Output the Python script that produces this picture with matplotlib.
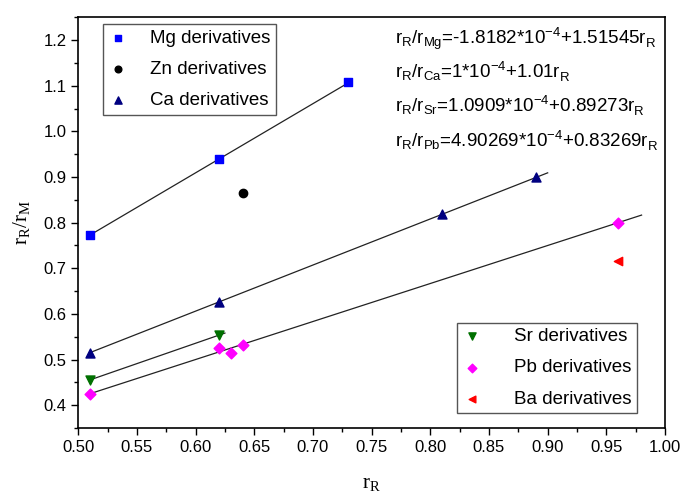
import numpy as np
import matplotlib
matplotlib.use('Agg')
from matplotlib import pyplot as plt
from matplotlib.ticker import MultipleLocator, FormatStrFormatter

plt.rcParams['font.family'] = 'Liberation Sans'
plt.rcParams['mathtext.fontset'] = 'custom'
plt.rcParams['mathtext.rm'] = 'Liberation Sans'

# r_R values and r_R/r_M ratios for each series
mg_x = [0.51, 0.62, 0.73]
mg_y = [0.773, 0.940, 1.107]
zn_x = [0.64]
zn_y = [0.865]
ca_x = [0.51, 0.62, 0.81, 0.89]
ca_y = [0.515, 0.627, 0.820, 0.900]
sr_x = [0.51, 0.62]
sr_y = [0.455, 0.553]
pb_x = [0.51, 0.62, 0.63, 0.64, 0.96]
pb_y = [0.425, 0.525, 0.515, 0.533, 0.800]
ba_x = [0.96]
ba_y = [0.716]

# linear fits (intercept, slope, x range)
fits = [
    (-1.8182e-4, 1.51545, 0.51, 0.73),
    (1e-4, 1.01, 0.51, 0.90),
    (1.0909e-4, 0.89273, 0.51, 0.625),
    (4.90269e-4, 0.83269, 0.51, 0.98),
]
equations = [
    r'$\mathregular{r_R/r_{Mg}}$=-1.8182*10$^{\mathregular{-4}}$+1.51545r$_\mathregular{R}$',
    r'$\mathregular{r_R/r_{Ca}}$=1*10$^{\mathregular{-4}}$+1.01r$_\mathregular{R}$',
    r'$\mathregular{r_R/r_{Sr}}$=1.0909*10$^{\mathregular{-4}}$+0.89273r$_\mathregular{R}$',
    r'$\mathregular{r_R/r_{Pb}}$=4.90269*10$^{\mathregular{-4}}$+0.83269r$_\mathregular{R}$',
]

fig = plt.figure(figsize=(6.8, 4.92), dpi=100)
ax = fig.add_axes([0.115, 0.130, 0.863, 0.835])

for b, k, x0, x1 in fits:
    xs = np.array([x0, x1])
    ax.plot(xs, b + k * xs, color='#222222', lw=0.9, zorder=1)

h1 = ax.scatter(mg_x, mg_y, marker='s', s=30, color='#0000ff', label='Mg derivatives', zorder=3)
h2 = ax.scatter(zn_x, zn_y, marker='o', s=36, color='black', label='Zn derivatives', zorder=3)
h3 = ax.scatter(ca_x, ca_y, marker='^', s=42, color='#000080', label='Ca derivatives', zorder=3)
h4 = ax.scatter(sr_x, sr_y, marker='v', s=42, color='#007000', label='Sr derivatives', zorder=3)
h5 = ax.scatter(pb_x, pb_y, marker='D', s=30, color='#ff00ff', label='Pb derivatives', zorder=3)
h6 = ax.scatter(ba_x, ba_y, marker='<', s=36, color='#ff0000', label='Ba derivatives', zorder=3)

leg_kw = dict(fontsize=13.5, fancybox=False, edgecolor='#555555', framealpha=1,
              borderpad=0.3, labelspacing=0.75, handlelength=1.0, markerscale=0.8,
              borderaxespad=0)
leg1 = ax.legend(handles=[h1, h2, h3], loc='upper left', bbox_to_anchor=(0.043, 0.983),
                 handletextpad=1.2, **leg_kw)
leg1.get_frame().set_linewidth(1.0)
ax.add_artist(leg1)
leg2 = ax.legend(handles=[h4, h5, h6], loc='lower right', bbox_to_anchor=(0.952, 0.036),
                 handletextpad=1.7, **leg_kw)
leg2.get_frame().set_linewidth(1.0)

for i, eq in enumerate(equations):
    ax.text(0.54, 0.949 - i * 0.083, eq, transform=ax.transAxes, fontsize=13.5, va='center')

ax.set_xlim(0.50, 1.00)
ax.set_ylim(0.35, 1.25)
ax.xaxis.set_major_locator(MultipleLocator(0.05))
ax.xaxis.set_minor_locator(MultipleLocator(0.025))
ax.set_yticks(np.arange(0.4, 1.21, 0.1))
ax.yaxis.set_minor_locator(MultipleLocator(0.05))
ax.tick_params(which='both', direction='out', labelsize=12, width=1)
ax.tick_params(which='major', length=5)
ax.tick_params(which='minor', length=3)
ax.xaxis.set_major_formatter(FormatStrFormatter('%.2f'))
ax.yaxis.set_major_formatter(FormatStrFormatter('%.1f'))
for s in ax.spines.values():
    s.set_linewidth(1.2)

ax.set_xlabel(r'$\mathregular{r_R}$', fontsize=15, labelpad=14)
ax.set_ylabel(r'$\mathregular{r_R/r_M}$', fontsize=15, labelpad=8)
ax.xaxis.label.set_fontfamily('Liberation Serif')
ax.yaxis.label.set_fontfamily('Liberation Serif')

fig.savefig('out.png', dpi=100)
